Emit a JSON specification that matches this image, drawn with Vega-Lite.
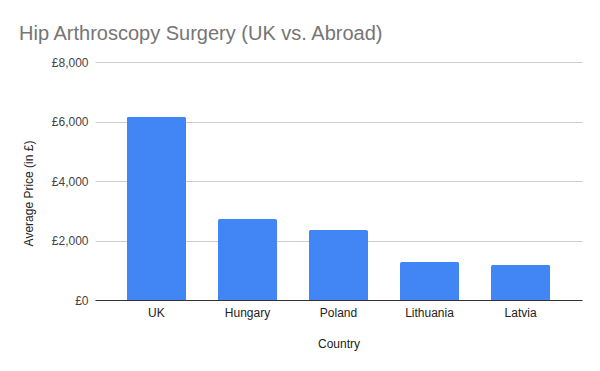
{
  "$schema": "https://vega.github.io/schema/vega-lite/v6.json",
  "width": 487,
  "height": 238,
  "autosize": {"type": "none"},
  "padding": {"left": 95, "top": 62, "right": 18, "bottom": 71},
  "background": "white",
  "title": {
    "text": "Hip Arthroscopy Surgery (UK vs. Abroad)",
    "anchor": "start",
    "frame": "group",
    "dx": -76,
    "offset": 12,
    "font": "Liberation Sans, Arial",
    "fontSize": 20,
    "fontWeight": "normal",
    "color": "#757575"
  },
  "data": {
    "values": [
      {"Country": "UK", "Price": 6160},
      {"Country": "Hungary", "Price": 2720},
      {"Country": "Poland", "Price": 2350},
      {"Country": "Lithuania", "Price": 1280},
      {"Country": "Latvia", "Price": 1180}
    ]
  },
  "mark": {"type": "bar", "color": "#4285F4", "cornerRadiusTopLeft": 2, "cornerRadiusTopRight": 2},
  "encoding": {
    "x": {
      "field": "Country",
      "type": "nominal",
      "sort": null,
      "scale": {"paddingInner": 0.35, "paddingOuter": 0.35},
      "axis": {
        "title": "Country",
        "labelAngle": 0,
        "ticks": false,
        "domainColor": "#333333",
        "labelFont": "Liberation Sans, Arial",
        "labelFontSize": 12,
        "labelColor": "#222222",
        "labelPadding": 7,
        "titleFont": "Liberation Sans, Arial",
        "titleFontSize": 12,
        "titleFontWeight": "normal",
        "titleColor": "#222222",
        "titlePadding": 20
      }
    },
    "y": {
      "field": "Price",
      "type": "quantitative",
      "scale": {"domain": [0, 8000]},
      "axis": {
        "title": "Average Price (in £)",
        "values": [0, 2000, 4000, 6000, 8000],
        "labelExpr": "'£' + format(datum.value, ',')",
        "domain": false,
        "ticks": false,
        "gridColor": "#cccccc",
        "labelFont": "Liberation Sans, Arial",
        "labelFontSize": 12,
        "labelColor": "#444444",
        "labelPadding": 7,
        "titleFont": "Liberation Sans, Arial",
        "titleFontSize": 12,
        "titleFontWeight": "normal",
        "titleColor": "#222222",
        "titlePadding": 16,
        "titleY": 131
      }
    }
  },
  "config": {"view": {"stroke": null}}
}
